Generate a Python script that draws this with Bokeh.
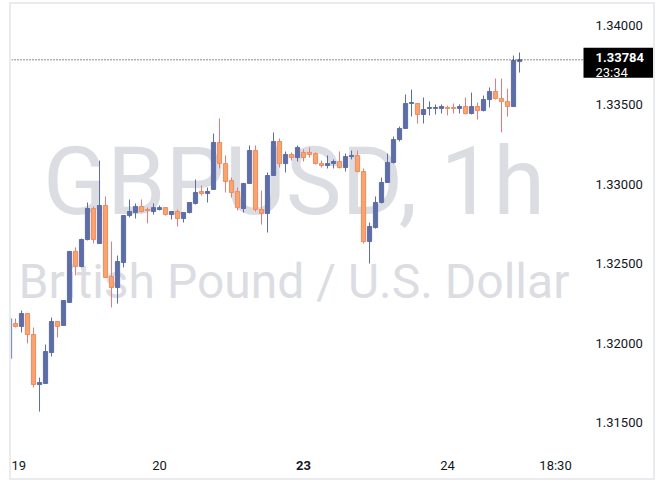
from bokeh.plotting import figure
from bokeh.models import Range1d, FixedTicker, PrintfTickFormatter, Label, ColumnDataSource
from bokeh.embed import file_html
from bokeh.resources import INLINE

symbol = "GBPUSD"
interval = "1h"
description = "British Pound / U.S. Dollar"

opens = [1.31904, 1.32124, 1.32106, 1.32187, 1.32055, 1.31740, 1.31747, 1.31942, 1.32137, 1.32112,
         1.32257, 1.32578, 1.32483, 1.32653, 1.32848, 1.32628, 1.32867, 1.32420, 1.32351, 1.32508,
         1.32804, 1.32823, 1.32861, 1.32842, 1.32829, 1.32842, 1.32854, 1.32810, 1.32829, 1.32785,
         1.32823, 1.32880, 1.32955, 1.32943, 1.32968, 1.33264, 1.33131, 1.33024, 1.32955, 1.32848,
         1.33006, 1.33213, 1.32842, 1.32817, 1.33056, 1.33270, 1.33131, 1.33188, 1.33169, 1.33201,
         1.33201, 1.33194, 1.33131, 1.33119, 1.33131, 1.33144, 1.33106, 1.33175, 1.33182, 1.33081,
         1.32640, 1.32728, 1.32886, 1.33012, 1.33138, 1.33282, 1.33352, 1.33509, 1.33509, 1.33440,
         1.33478, 1.33478, 1.33478, 1.33484, 1.33484, 1.33478, 1.33490, 1.33446, 1.33490, 1.33465,
         1.33534, 1.33585, 1.33541, 1.33522, 1.33490, 1.33773]
highs = [1.32162, 1.32156, 1.32206, 1.32190, 1.32099, 1.31784, 1.31992, 1.32162, 1.32140, 1.32272,
         1.32580, 1.32603, 1.32659, 1.32886, 1.32861, 1.33150, 1.32924, 1.32640, 1.32552, 1.32806,
         1.32905, 1.32880, 1.32905, 1.32854, 1.32880, 1.32867, 1.32856, 1.32831, 1.32842, 1.32825,
         1.32888, 1.33031, 1.32993, 1.32980, 1.33320, 1.33415, 1.33182, 1.33043, 1.32980, 1.33008,
         1.33245, 1.33245, 1.32961, 1.33075, 1.33327, 1.33289, 1.33207, 1.33201, 1.33245, 1.33220,
         1.33232, 1.33201, 1.33150, 1.33182, 1.33157, 1.33207, 1.33194, 1.33213, 1.33213, 1.33100,
         1.32760, 1.32924, 1.33043, 1.33194, 1.33301, 1.33364, 1.33566, 1.33597, 1.33511, 1.33547,
         1.33522, 1.33503, 1.33503, 1.33496, 1.33509, 1.33503, 1.33547, 1.33578, 1.33515, 1.33559,
         1.33610, 1.33666, 1.33666, 1.33603, 1.33811, 1.33830]
lows = [1.31892, 1.32099, 1.32068, 1.31999, 1.31722, 1.31570, 1.31745, 1.31917, 1.32036, 1.32110,
        1.32255, 1.32427, 1.32477, 1.32647, 1.32628, 1.32625, 1.32411, 1.32225, 1.32250, 1.32477,
        1.32792, 1.32785, 1.32823, 1.32754, 1.32810, 1.32836, 1.32804, 1.32779, 1.32735, 1.32760,
        1.32817, 1.32873, 1.32930, 1.32886, 1.32966, 1.33100, 1.32949, 1.32917, 1.32836, 1.32823,
        1.33004, 1.32829, 1.32747, 1.32697, 1.33054, 1.33106, 1.33075, 1.33150, 1.33144, 1.33144,
        1.33169, 1.33125, 1.33106, 1.33100, 1.33100, 1.33100, 1.33081, 1.33157, 1.33075, 1.32628,
        1.32502, 1.32722, 1.32880, 1.33010, 1.33131, 1.33270, 1.33350, 1.33427, 1.33383, 1.33383,
        1.33434, 1.33440, 1.33446, 1.33434, 1.33446, 1.33446, 1.33440, 1.33440, 1.33408, 1.33459,
        1.33484, 1.33534, 1.33327, 1.33427, 1.33488, 1.33704]
closes = [1.32156, 1.32106, 1.32187, 1.32055, 1.31740, 1.31753, 1.31948, 1.32137, 1.32106, 1.32269,
          1.32578, 1.32483, 1.32653, 1.32848, 1.32653, 1.32867, 1.32414, 1.32351, 1.32515, 1.32804,
          1.32829, 1.32861, 1.32829, 1.32836, 1.32854, 1.32854, 1.32810, 1.32829, 1.32785, 1.32823,
          1.32886, 1.32949, 1.32943, 1.32955, 1.33264, 1.33131, 1.33018, 1.32949, 1.32854, 1.33006,
          1.33213, 1.32842, 1.32817, 1.33056, 1.33270, 1.33131, 1.33188, 1.33169, 1.33232, 1.33169,
          1.33188, 1.33131, 1.33119, 1.33131, 1.33144, 1.33106, 1.33175, 1.33182, 1.33081, 1.32640,
          1.32735, 1.32886, 1.33012, 1.33138, 1.33282, 1.33352, 1.33509, 1.33515, 1.33440, 1.33471,
          1.33484, 1.33484, 1.33490, 1.33478, 1.33478, 1.33490, 1.33446, 1.33490, 1.33465, 1.33534,
          1.33585, 1.33541, 1.33522, 1.33490, 1.33780, 1.33784]

time_ticks = [1, 25, 49, 73, 91]
time_labels = ["19", "20", "23", "24", "18:30"]
bold_time_labels = ["23"]
price_ticks = [1.315, 1.320, 1.325, 1.330, 1.335, 1.340]
last_price = closes[-1]
countdown = "23:34"

UP = "#5d6da5"
DOWN_FILL = "#f8a46e"
DOWN_LINE = "#ee8b60"
DOWN_WICK = "#e8787c"
TEXT = "#131722"
FONT = "Roboto"

idx = list(range(len(opens)))
up = [c >= o for o, c in zip(opens, closes)]
src = ColumnDataSource(dict(
    x=idx,
    top=[max(o, c) for o, c in zip(opens, closes)],
    bottom=[min(o, c) for o, c in zip(opens, closes)],
    high=highs, low=lows,
    fill=[UP if u else DOWN_FILL for u in up],
    line=[UP if u else DOWN_LINE for u in up],
    wick=[UP if u else DOWN_WICK for u in up],
))

# frame covers the whole bordered box; the price scale and time scale sit inside it
W, H = 646, 478
PANE_W = 571          # width of candle pane (left of price scale)
x0 = 0.33
px_per_x = 6.0
x1 = x0 + W / px_per_x
pane_end = x0 + PANE_W / px_per_x
y1 = 1.341322
px_per_y = 15888.0
y0 = y1 - H / px_per_y

p = figure(width=W, height=H, x_range=Range1d(x0, x1), y_range=Range1d(y0, y1),
           output_backend="svg", toolbar_location=None, y_axis_location="right",
           min_border_left=0, min_border_right=0, min_border_top=0, min_border_bottom=0)
p.styles = {"margin-left": "9px", "margin-top": "2px", "border": "2px solid #e9ebef"}
p.outline_line_color = None
p.background_fill_color = "white"
p.border_fill_color = "white"
p.xgrid.visible = False
p.ygrid.visible = False

# watermark
xc = (x0 + pane_end) / 2 - 0.5
p.add_layout(Label(x=xc, y=1.32810, y_offset=33, text=f"{symbol}, {interval}", text_font=FONT,
                   text_font_size="94px", text_color="#dcdde2", text_align="center",
                   text_baseline="alphabetic", level="underlay"))
p.add_layout(Label(x=xc, y=1.32288, y_offset=16, text=description, text_font=FONT,
                   text_font_size="48px", text_color="#dcdde2", text_align="center",
                   text_baseline="alphabetic", level="underlay"))

p.segment(x0="x", y0="low", x1="x", y1="high", line_color="wick", line_width=1, source=src)
p.vbar(x="x", width=0.7, top="top", bottom="bottom", fill_color="fill", line_color="line",
       line_width=1, source=src)

# last price dotted line across the pane
p.segment(x0=[x0], y0=[last_price], x1=[pane_end], y1=[last_price], line_color=TEXT,
          line_dash="1 2", line_width=1)

yax = p.yaxis[0]
yax.ticker = FixedTicker(ticks=price_ticks)
yax.formatter = PrintfTickFormatter(format="%.5f")
yax.axis_line_color = None
yax.major_tick_line_color = None
yax.minor_tick_line_color = None
yax.major_tick_out = 0
yax.major_label_standoff = -(W - PANE_W) + 13
yax.major_label_text_font = FONT
yax.major_label_text_font_size = "13px"
yax.major_label_text_color = TEXT

xax = p.xaxis[0]
xax.ticker = FixedTicker(ticks=time_ticks)
xax.major_label_overrides = {t: ("" if l in bold_time_labels else l) for t, l in zip(time_ticks, time_labels)}
xax.axis_line_color = None
xax.major_tick_line_color = None
xax.minor_tick_line_color = None
xax.major_tick_out = 0
xax.major_label_standoff = -25
xax.major_label_text_font = FONT
xax.major_label_text_font_size = "13px"
xax.major_label_text_color = TEXT

for t, l in zip(time_ticks, time_labels):
    if l in bold_time_labels:
        p.add_layout(Label(x=t, y=y0 + 17 / px_per_y, text=l, text_font=FONT, text_font_size="13px",
                           text_font_style="bold", text_color=TEXT, text_align="center",
                           text_baseline="middle"))

# last price tag on the price scale
p.quad(left=[pane_end + 1 / px_per_x], right=[x1], top=[last_price + 12 / px_per_y],
       bottom=[last_price - 18 / px_per_y], fill_color="black", line_color=None)
xb = pane_end + 13 / px_per_x
p.add_layout(Label(x=xb, y=last_price, y_offset=2, text=f"{last_price:.5f}", text_font=FONT,
                   text_font_size="13px", text_font_style="bold", text_color="white",
                   text_align="left", text_baseline="middle"))
p.add_layout(Label(x=xb, y=last_price, y_offset=-13, text=countdown, text_font=FONT,
                   text_font_size="13px", text_color="white", text_align="left",
                   text_baseline="middle"))

open("out.html", "w").write(file_html(p, INLINE))
